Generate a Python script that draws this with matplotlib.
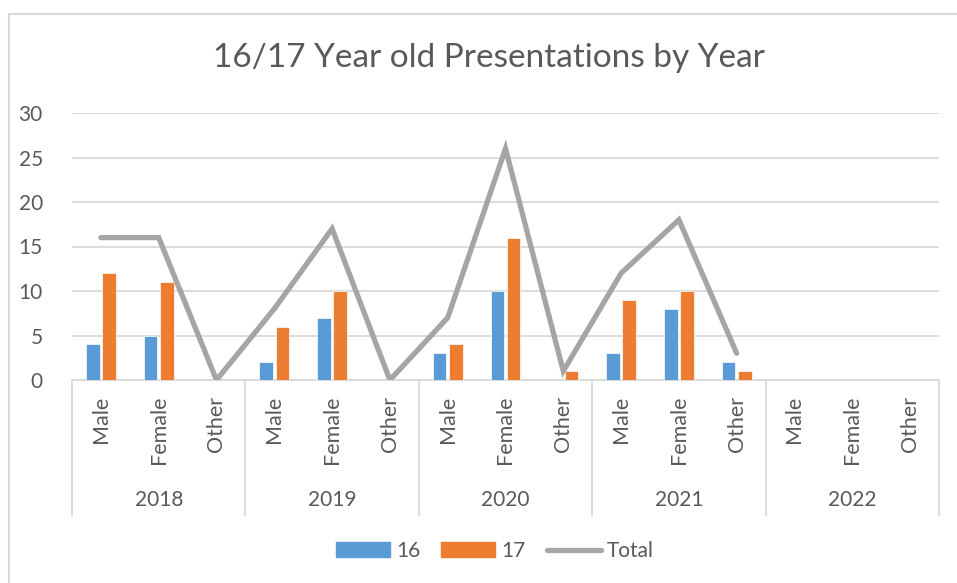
import numpy as np
import matplotlib
matplotlib.use("Agg")
import matplotlib.pyplot as plt
from matplotlib.lines import Line2D
from matplotlib.patches import Rectangle, Patch

years = ["2018", "2019", "2020", "2021", "2022"]
genders = ["Male", "Female", "Other"]
age16 = [4, 5, 0, 2, 7, 0, 3, 10, 0, 3, 8, 2, np.nan, np.nan, np.nan]
age17 = [12, 11, 0, 6, 10, 0, 4, 16, 1, 9, 10, 1, np.nan, np.nan, np.nan]
total = [16, 16, 0, 8, 17, 0, 7, 26, 1, 12, 18, 3, np.nan, np.nan, np.nan]
yticks = [0, 5, 10, 15, 20, 25, 30]

plt.rcParams['font.family'] = ['Lato', 'DejaVu Sans']
TXT = "#595959"
GRID = "#D9D9D9"

W, H = 957, 583
fig = plt.figure(figsize=(W / 100, H / 100), dpi=100)
ax = fig.add_axes([72 / W, 1 - 380 / H, (939 - 72) / W, (380 - 113) / H])

x = np.arange(len(age16))
bw = 0.235
ax.bar(x - 0.14, age16, width=bw, color="#5B9BD5", edgecolor="white", linewidth=0.5, zorder=2)
ax.bar(x + 0.14, age17, width=bw, color="#ED7D31", edgecolor="white", linewidth=0.5, zorder=2)
ax.plot(x, total, color="#A5A5A5", linewidth=3.8, solid_capstyle="round",
        solid_joinstyle="miter", zorder=3)

ax.set_xlim(-0.5, len(x) - 0.5)
ax.set_ylim(0, 30)
ax.set_yticks(yticks)
ax.set_yticklabels([str(v) for v in yticks], fontsize=15, color=TXT)
ax.tick_params(axis="y", length=0, pad=21)
ax.set_xticks([])
ax.grid(axis="y", color=GRID, linewidth=1.3, zorder=0)
for s in ["top", "right", "left"]:
    ax.spines[s].set_visible(False)
ax.spines["bottom"].set_color(GRID)
ax.spines["bottom"].set_linewidth(1.3)
ax.spines["bottom"].set_zorder(1)

trans = ax.get_xaxis_transform()
ah = 380 - 113
for i in range(len(x)):
    ax.text(x[i], -16 / ah, genders[i % 3], rotation=90, ha="center", va="top",
            fontsize=15.5, color=TXT, transform=trans)
for j, yr in enumerate(years):
    ax.text(3 * j + 1, -120 / ah, yr, ha="center", va="center", fontsize=15,
            color=TXT, transform=trans)
for k in range(len(years) + 1):
    xs = 3 * k - 0.5
    ax.add_line(Line2D([xs, xs], [0, -135 / ah], transform=trans, color=GRID,
                       linewidth=1.3, clip_on=False))

fig.text(489 / W, 1 - 58 / H, "16/17 Year old Presentations by Year", ha="center",
         va="center", fontsize=24, color=TXT)

handles = [Patch(color="#5B9BD5"), Patch(color="#ED7D31"),
           Line2D([0], [0], color="#A5A5A5", linewidth=3.8, solid_capstyle="round")]
fig.legend(handles, ["16", "17", "Total"], loc="center", bbox_to_anchor=(495 / W, 1 - 551 / H),
           ncol=3, frameon=False, fontsize=15, handlelength=2.6, handleheight=0.75,
           columnspacing=1.0, handletextpad=0.3, labelcolor=TXT)

fig.patches.append(Rectangle((8.5 / W, -0.1), 1.2, 1 - 14.5 / H + 0.1, transform=fig.transFigure,
                             fill=False, edgecolor=GRID, linewidth=1.5))

fig.savefig("out.png", dpi=100)
